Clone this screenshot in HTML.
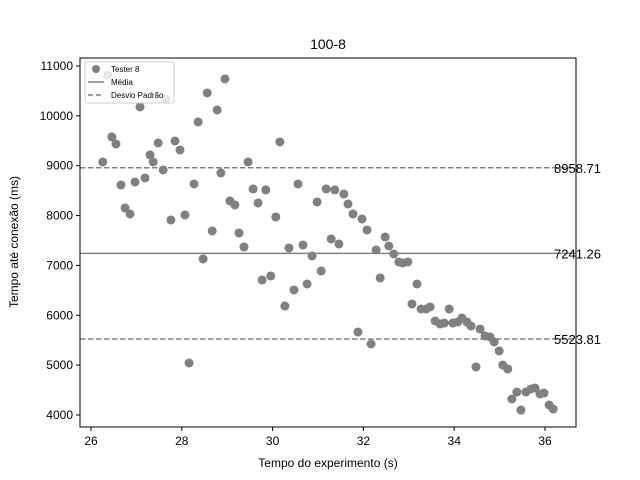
<!DOCTYPE html>
<html><head><meta charset="utf-8"><style>body{margin:0;background:#fff}svg{display:block;font-family:"Liberation Sans","DejaVu Sans",sans-serif}</style></head>
<body>
<svg id="chart" width="640" height="480">
<rect width="640" height="480" fill="#fff"/>
<g id="marks"></g>
<rect x="80" y="58" width="496" height="369" fill="none" stroke="#000" stroke-width="1"/>
<text x="328" y="49" font-size="14" text-anchor="middle">100-8</text>
<text x="328" y="467" font-size="12" text-anchor="middle">Tempo do experimento (s)</text>
<text transform="translate(18,242) rotate(-90)" font-size="12" text-anchor="middle">Tempo até conexão (ms)</text>
<g>
<rect x="85" y="62" width="89" height="41" rx="2" fill="#fff" fill-opacity="0.8" stroke="#ccc"/>
<circle cx="96" cy="69" r="4" fill="#808080"/>
<text x="111" y="72" font-size="8">Tester 8</text>
<line x1="88" y1="82" x2="104" y2="82" stroke="#808080" stroke-width="1.5"/>
<text x="111" y="85" font-size="8">Média</text>
<line x1="88" y1="95" x2="104" y2="95" stroke="#808080" stroke-width="1.5" stroke-dasharray="5,3"/>
<text x="111" y="98" font-size="8">Desvio Padrão</text>
</g>
</svg>
<script>
const times=[26.26,26.37,26.46,26.55,26.66,26.75,26.86,26.97,27.08,27.19,27.30,27.37,27.48,27.59,27.65,27.76,27.85,27.96,28.07,28.16,28.27,28.36,28.47,28.56,28.67,28.78,28.86,28.95,29.06,29.17,29.26,29.37,29.46,29.57,29.68,29.77,29.85,29.96,30.07,30.16,30.27,30.36,30.47,30.56,30.67,30.76,30.87,30.98,31.07,31.18,31.29,31.37,31.46,31.57,31.66,31.77,31.88,31.97,32.08,32.17,32.28,32.37,32.48,32.56,32.67,32.78,32.87,32.98,33.07,33.18,33.27,33.38,33.47,33.58,33.69,33.78,33.89,33.97,34.08,34.17,34.28,34.37,34.48,34.57,34.68,34.79,34.88,34.99,35.07,35.18,35.27,35.38,35.47,35.58,35.69,35.78,35.89,35.98,36.09,36.18];
const values=[9075,10820,9577,9436,8614,8152,8032,8674,10178,8754,9216,9075,9456,8915,10339,7912,9496,9316,8012,5043,8634,9878,7129,10459,7691,10118,8855,10740,8293,8213,7651,7370,9075,8534,8253,6708,8514,6788,7972,9476,6186,7350,6508,8634,7410,6628,7189,8273,6889,8534,7531,8514,7430,8433,8233,8032,5665,7932,7711,5424,7310,6748,7571,7390,7230,7069,7049,7069,6227,6628,6126,6126,6167,5886,5825,5845,6126,5845,5866,5946,5866,5785,4963,5725,5585,5565,5464,5284,5003,4923,4321,4461,4100,4461,4522,4542,4421,4441,4201,4120];
const refValues=[8958.71,7241.26,5523.81];
const refLabels=["8958.71","7241.26","5523.81"];
const refKinds=["desvio-upper","media","desvio-lower"];
const xTicks=[26,28,30,32,34,36];
const yTicks=[4000,5000,6000,7000,8000,9000,10000,11000];
const NS="http://www.w3.org/2000/svg";
const X=v=>91+(v-26)*45.4;
const Y=v=>415-(v-4000)*0.04986;
const g=document.getElementById('marks');
function mk(t,a){const e=document.createElementNS(NS,t);for(const k in a)e.setAttribute(k,a[k]);g.appendChild(e);return e;}
xTicks.forEach(t=>{
 const l=mk('line',{x1:X(t),x2:X(t),y1:427,y2:431,stroke:'#000'});
 
 
 const tx=mk('text',{x:X(t),y:445,'font-size':12,'text-anchor':'middle'});tx.textContent=t;
 
 
});
yTicks.forEach(t=>{
 const l=mk('line',{x1:76,x2:80,y1:Y(t),y2:Y(t),stroke:'#000'});
 
 
 const tx=mk('text',{x:73,y:Y(t)+4,'font-size':12,'text-anchor':'end'});tx.textContent=t;
 
 
});
refValues.forEach((v,i)=>{
 const a={x1:80,x2:576,y1:Y(v),y2:Y(v),stroke:'#808080','stroke-width':1.5};
 if(refKinds[i]!=='media')a['stroke-dasharray']='5.5,2.5';
 const l=mk('line',a);
 
 
 const tx=mk('text',{x:554,y:Y(v)+5,'font-size':13});tx.textContent=refLabels[i];
 
 
});
times.forEach((t,i)=>{
 const c=mk('circle',{cx:X(t),cy:Y(values[i]),r:4.5,fill:'#808080'});
 
 
});
</script>
</body></html>
